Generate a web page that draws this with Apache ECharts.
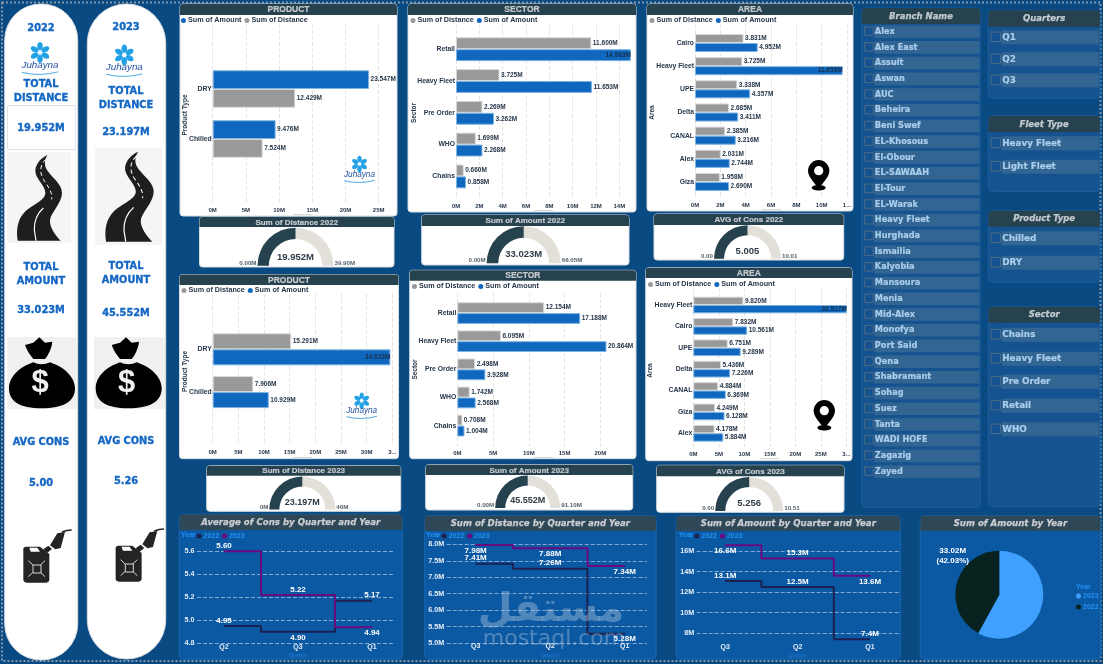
<!DOCTYPE html>
<html>
<head>
<meta charset="utf-8">
<title>Juhayna fleet dashboard</title>
<style>html,body{margin:0;padding:0;background:#0a4a82}#main{width:1103px;height:664px}</style>
<script src="https://cdn.jsdelivr.net/npm/echarts@6/dist/echarts.min.js"></script>
</head>
<body>
<div id="main"></div>
<script>
// ---- data ----
const productCats22 = ['DRY', 'Chilled'];
const productAmount22 = [23.547, 9.476];
const productDistance22 = [12.429, 7.524];
const sectorCats22 = ['Retail', 'Heavy Fleet', 'Pre Order', 'WHO', 'Chains'];
const sectorDistance22 = [11.6, 3.725, 2.269, 1.699, 0.66];
const sectorAmount22 = [14.983, 11.653, 3.262, 2.268, 0.858];
const areaCats22 = ['Cairo', 'Heavy Fleet', 'UPE', 'Delta', 'CANAL', 'Alex', 'Giza'];
const areaDistance22 = [3.831, 3.725, 3.338, 2.685, 2.385, 2.031, 1.958];
const areaAmount22 = [4.952, 11.653, 4.357, 3.411, 3.216, 2.744, 2.69];

const productCats23 = ['DRY', 'Chilled'];
const productDistance23 = [15.291, 7.906];
const productAmount23 = [34.623, 10.929];
const sectorCats23 = ['Retail', 'Heavy Fleet', 'Pre Order', 'WHO', 'Chains'];
const sectorDistance23 = [12.154, 6.095, 2.498, 1.742, 0.708];
const sectorAmount23 = [17.188, 20.864, 3.928, 2.568, 1.004];
const areaCats23 = ['Heavy Fleet', 'Cairo', 'UPE', 'Delta', 'CANAL', 'Giza', 'Alex'];
const areaDistance23 = [9.82, 7.832, 6.751, 5.436, 4.884, 4.249, 4.178];
const areaAmount23 = [32.517, 10.561, 9.289, 7.226, 6.369, 6.128, 5.884];

const gaugeTitles = ['Sum of Distance 2022', 'Sum of Amount 2022', 'AVG of Cons 2022', 'Sum of Distance 2023', 'Sum of Amount 2023', 'AVG of Cons 2023'];
const gaugeValues = [19.952, 33.023, 5.005, 23.197, 45.552, 5.256];
const gaugeMaxima = [39.904, 66.046, 10.01, 46.394, 91.104, 10.512];
const gaugeMinLabels = ['0.00M', '0.00M', '0.00', '0M', '0.00M', '0.00'];
const gaugeMaxLabels = ['39.90M', '66.05M', '10.01', '46M', '91.10M', '10.51'];
const gaugeSuffix = ['M', 'M', '', 'M', 'M', ''];

const consQuarters = ['Q2', 'Q3', 'Q1'];
const cons22 = [4.95, 4.90, 5.17];
const cons23 = [5.60, 5.22, 4.94];
const distanceQuarters = ['Q3', 'Q2', 'Q1'];
const distance22 = [7.41, 7.26, 5.28];
const distance23 = [7.98, 7.88, 7.34];
const amountQuarters = ['Q3', 'Q2', 'Q1'];
const amount22 = [13.1, 12.5, 7.4];
const amount23 = [16.6, 15.3, 13.6];

const yearNames = ['2023', '2022'];
const yearAmounts = [45.55, 33.02];

const branches = ['Alex', 'Alex East', 'Assuit', 'Aswan', 'AUC', 'Beheira', 'Beni Swef', 'EL-Khosous', 'El-Obour', 'EL-SAWAAH', 'El-Tour', 'EL-Warak', 'Heavy Fleet', 'Hurghada', 'Ismailia', 'Kalyobia', 'Mansoura', 'Menia', 'Mid-Alex', 'Monofya', 'Port Said', 'Qena', 'Shabramant', 'Sohag', 'Suez', 'Tanta', 'WADI HOFE', 'Zagazig', 'Zayed'];
const quarterOptions = ['Q1', 'Q2', 'Q3'];
const fleetOptions = ['Heavy Fleet', 'Light Fleet'];
const productOptions = ['Chilled', 'DRY'];
const sectorOptions = ['Chains', 'Heavy Fleet', 'Pre Order', 'Retail', 'WHO'];

// ---- palette and fonts ----
const BG = '#0a4a82', HEADER = '#27424f', HEADER2 = '#2e4858', INK = '#27374a';
const BLUE = '#0f68bd', GREY = '#999999', RING = '#e3dfd9', LINE22 = '#1b2152', LINE23 = '#6a0a80';
const ACCENT = '#1567c4', LEGEND_BLUE = '#2291f5';
const SANS = '"Liberation Sans"', WIDE = '"DejaVu Sans"';
const boldType = size => ({ fontSize: size, fontWeight: 'bold', fontFamily: 'Liberation Sans' });

const grid = [], xAxis = [], yAxis = [], series = [], legend = [], gfx = [];

// ---- drawing helpers for the page furniture ----
function rect(x0, y0, x1, y1, fill, r, stroke, z, extra) {
  gfx.push({ type: 'rect', z: z == null ? -5 : z, silent: true,
    shape: { x: x0, y: y0, width: x1 - x0, height: y1 - y0, r: r || 0 },
    style: Object.assign({ fill: fill, stroke: stroke || null, lineWidth: stroke ? 1 : 0 }, extra || {}) });
}
function text(x, y, str, font, fill, align, rotation, z, weight) {
  gfx.push({ type: 'text', x: x, y: y, rotation: rotation || 0, z: z == null ? 20 : z, silent: true,
    style: { text: str, font: font, fill: fill, align: align || 'center', verticalAlign: 'middle',
      stroke: weight ? fill : null, lineWidth: weight || 0 } });
}
// Vector glyphs are registered once per outline, then placed like any other graphic element.
const shapeNames = new Map();
function shapeFor(d) {
  if (!shapeNames.has(d)) {
    const name = 'glyph' + shapeNames.size;
    echarts.graphic.registerShape(name, echarts.graphic.extendPath(d, {}));
    shapeNames.set(d, name);
  }
  return shapeNames.get(d);
}
function icon(d, fill, tx, ty, sx, sy, stroke, lw, dash, z) {
  gfx.push({ type: shapeFor(d), x: tx, y: ty, scaleX: sx, scaleY: sy, z: z == null ? 20 : z, silent: true,
    style: { fill: fill || 'none', stroke: stroke || null, lineWidth: lw || 0, lineDash: dash || null } });
}

function whitePanel(x0, y0, x1, y1, hdr, title, size) {
  rect(x0, y0, x1, y1, '#ffffff', 3, '#d6dde3', -5);
  rect(x0, y0, x1, hdr, HEADER, [3, 3, 0, 0], null, -4);
  text((x0 + x1) / 2, (y0 + hdr) / 2 + 0.5, title, 'bold ' + (size || 8.5) + 'px ' + SANS, '#c6cbcf', 'center', 0, 20, 0.2);
}
function bluePanel(x0, y0, x1, y1, hdr, title) {
  rect(x0, y0, x1, y1, '#0c59a3', 4, '#1a68b0', -5);
  rect(x0, y0, x1, hdr, HEADER2, [4, 4, 0, 0], null, -4);
  text((x0 + x1) / 2, (y0 + hdr) / 2 + 0.5, title, 'italic bold 8.6px ' + WIDE, '#c9ccd0', 'center', 0, 20, 0.25);
}
function slicer(x0, y0, x1, y1, hdr, title, items, ys, size, boxL, barL, boxS, barH) {
  rect(x0, y0, x1, y1, '#14538f', 4, '#1b5f9e', -5);
  rect(x0, y0, x1, hdr, HEADER, [4, 4, 0, 0], null, -4);
  text((x0 + x1) / 2, (y0 + hdr) / 2 + 0.5, title, 'italic bold 8.5px ' + WIDE, '#c2c9cf', 'center', 0, 20, 0.25);
  items.forEach((name, i) => {
    const y = ys(i);
    rect(barL, y - barH / 2, x1 - 1, y + barH / 2, '#336593', 0, null, -3);
    rect(boxL, y - boxS / 2 - 0.5, boxL + boxS, y + boxS / 2 - 0.5, 'rgba(0,0,0,0)', 0, '#4d6b84', -3);
    text(barL + 0.5, y, name, 'bold ' + size + 'px ' + WIDE, '#a9cdeb', 'left', 0, 20, 0.2);
  });
}

// ---- bar panels: one grid carries the ticks and guide lines, a second one the bars ----
function addBars(c) {
  const g = grid.length;
  const niceMax = c.max % c.interval === 0;
  grid.push({ left: c.x0, top: c.guideTop, width: c.x1 - c.x0, height: c.guideBottom - c.guideTop });
  xAxis.push({ gridIndex: g, type: 'value', min: 0, max: c.max, interval: c.interval,
    axisLine: { show: false }, axisTick: { show: false },
    axisLabel: { margin: 4, ...boldType(6), color: INK, showMaxLabel: niceMax,
      formatter: v => (c.cut && v === c.max) ? c.cut : v + 'M' },
    splitLine: { show: true, showMaxLine: niceMax, lineStyle: { color: '#e4e4e4', type: 'dashed', width: 1 } } });
  yAxis.push({ gridIndex: g, type: 'category', data: c.cats, show: false });

  const b = grid.length;
  grid.push({ left: c.x0, top: c.barTop, width: c.x1 - c.x0, height: c.barBottom - c.barTop });
  xAxis.push({ gridIndex: b, type: 'value', min: 0, max: c.max, show: false, splitLine: { show: false } });
  yAxis.push({ gridIndex: b, type: 'category', data: c.cats, inverse: true,
    axisLine: { show: false }, axisTick: { show: false },
    axisLabel: { margin: 1, ...boldType(6.8), color: INK } });

  c.bars.forEach(s => {
    series.push({ type: 'bar', name: s.name, xAxisIndex: b, yAxisIndex: b, barGap: 0, barCategoryGap: c.gap + '%',
      itemStyle: { color: s.color, borderColor: s.edge, borderWidth: 1 },
      label: { show: true, position: 'right', distance: 1.5, ...boldType(6.5), color: INK,
        formatter: p => p.value.toFixed(3) + 'M' },
      data: s.data.map(v => v >= c.insideFrom
        ? { value: v, label: { position: 'insideRight', distance: 0, color: '#16304e' } } : v) });
  });
  legend.push({ left: c.legendX, top: c.legendY - 2.5, padding: 0, itemWidth: 5, itemHeight: 5, itemGap: 3, icon: 'circle',
    selectedMode: false, textStyle: { ...boldType(7.2), color: INK, padding: [0, 0, 0, -3] },
    data: c.bars.map(s => ({ name: s.name, itemStyle: { color: s.color, borderWidth: 0 } })) });
  text(c.titleX, (c.guideTop + c.guideBottom) / 2 + c.titleDy, c.title, 'bold 6.5px ' + SANS, INK, 'center', Math.PI / 2);
  rect(c.handleX, c.handleY, c.handleX + 19, c.handleY + 1.2, '#d9d9d9', 0, null, -3);
}

const amountBar = data => ({ name: 'Sum of Amount', data, color: BLUE, edge: '#7fb3e2' });
const distanceBar = data => ({ name: 'Sum of Distance', data, color: GREY, edge: '#d8d8d8' });

whitePanel(180, 4, 397, 216, 15, 'PRODUCT');
addBars({ x0: 212.7, x1: 378.7, max: 25, interval: 5, guideTop: 24, guideBottom: 203, barTop: 64, barBottom: 164, gap: 25,
  cats: productCats22, bars: [amountBar(productAmount22), distanceBar(productDistance22)], insideFrom: 99,
  legendX: 181, legendY: 19.5, title: 'Product Type', titleX: 185, titleDy: 1.5, handleX: 293, handleY: 214 });

whitePanel(408, 4, 636, 212, 15, 'SECTOR');
addBars({ x0: 456, x1: 631, max: 15, interval: 2, guideTop: 24, guideBottom: 199, barTop: 33.3, barBottom: 192.3, gap: 25,
  cats: sectorCats22, bars: [distanceBar(sectorDistance22), amountBar(sectorAmount22)], insideFrom: 14,
  legendX: 410.5, legendY: 19.5, title: 'Sector', titleX: 414, titleDy: 1.5, handleX: 534, handleY: 210 });

whitePanel(647, 4, 853, 211, 15, 'AREA');
addBars({ x0: 695, x1: 847, max: 12, interval: 2, cut: '1...', guideTop: 24, guideBottom: 198, barTop: 31.4, barBottom: 193.6, gap: 22,
  cats: areaCats22, bars: [distanceBar(areaDistance22), amountBar(areaAmount22)], insideFrom: 11,
  legendX: 649.5, legendY: 19.5, title: 'Area', titleX: 652.3, titleDy: 1.5, handleX: 762, handleY: 209 });

whitePanel(179.5, 274.5, 398.5, 458.7, 285, 'PRODUCT');
addBars({ x0: 212.7, x1: 392.3, max: 35, interval: 5, cut: '3...', guideTop: 294, guideBottom: 445, barTop: 328, barBottom: 413.4, gap: 25,
  cats: productCats23, bars: [distanceBar(productDistance23), amountBar(productAmount23)], insideFrom: 30,
  legendX: 181.5, legendY: 289.5, title: 'Product Type', titleX: 185, titleDy: 2, handleX: 293, handleY: 457 });

whitePanel(409.7, 270.3, 636, 458.7, 280.7, 'SECTOR');
addBars({ x0: 457.3, x1: 614.6, max: 22, interval: 5, guideTop: 293, guideBottom: 446, barTop: 299, barBottom: 439.7, gap: 23,
  cats: sectorCats23, bars: [distanceBar(sectorDistance23), amountBar(sectorAmount23)], insideFrom: 99,
  legendX: 412, legendY: 285.5, title: 'Sector', titleX: 415, titleDy: 0, handleX: 534, handleY: 457 });

whitePanel(645.7, 267.7, 852, 460.7, 278, 'AREA');
addBars({ x0: 693.3, x1: 846.3, max: 30, interval: 5, cut: '3...', guideTop: 288, guideBottom: 447, barTop: 294.3, barBottom: 444, gap: 22,
  cats: areaCats23, bars: [distanceBar(areaDistance23), amountBar(areaAmount23)], insideFrom: 30,
  legendX: 648, legendY: 283.5, title: 'Area', titleX: 650.7, titleDy: 3, handleX: 760, handleY: 458 });

// ---- half-ring gauges ----
const gaugeBoxes = [
  { x0: 199.5, x1: 394, y0: 217, y1: 267, hdr: 227, cx: 295.5, cy: 265.7, r: 38, t: 11.3, dy: 8.7, fs: 9.5 },
  { x0: 421.7, x1: 629, y0: 215, y1: 265, hdr: 226, cx: 523.7, cy: 263.2, r: 37, t: 11.5, dy: 8.5, fs: 9.5 },
  { x0: 654, x1: 843.7, y0: 214, y1: 260, hdr: 225, cx: 747.5, cy: 258.7, r: 33.5, t: 10, dy: 7.7, fs: 9.5 },
  { x0: 206.7, x1: 400.7, y0: 465.7, y1: 511.3, hdr: 475.7, cx: 302.3, cy: 509.5, r: 33, t: 10, dy: 7, fs: 9 },
  { x0: 425.7, x1: 632.7, y0: 464.7, y1: 510, hdr: 475, cx: 527.7, cy: 508, r: 32.5, t: 10, dy: 7.5, fs: 9 },
  { x0: 656.7, x1: 844, y0: 465.3, y1: 512.3, hdr: 476.3, cx: 749.2, cy: 511, r: 34, t: 10, dy: 8, fs: 9.5 }
];
gaugeBoxes.forEach((b, i) => {
  whitePanel(b.x0, b.y0, b.x1, b.y1, b.hdr, gaugeTitles[i], 8);
  series.push({ type: 'gauge', center: [b.cx, b.cy], radius: b.r, startAngle: 180, endAngle: 0, min: 0, max: gaugeMaxima[i],
    axisLine: { lineStyle: { width: b.t, color: [[1, RING]] } },
    progress: { show: true, width: b.t, itemStyle: { color: HEADER } },
    pointer: { show: false }, axisTick: { show: false }, splitLine: { show: false }, axisLabel: { show: false },
    anchor: { show: false }, title: { show: false },
    detail: { offsetCenter: [0, -b.dy], ...boldType(b.fs), color: '#2f3b46',
      formatter: v => v.toFixed(3) + gaugeSuffix[i] },
    data: [{ value: gaugeValues[i] }] });
  const labelY = b.cy - 2.5, font = 'bold 6.2px ' + SANS;
  text(b.cx - b.r - 1, labelY, gaugeMinLabels[i], font, '#55606b', 'right');
  text(b.cx + b.r + 1, labelY, gaugeMaxLabels[i], font, '#55606b', 'left');
});

// ---- stepped line panels ----
function addSteps(c) {
  const g = grid.length;
  grid.push({ left: c.guideL, top: c.top, width: c.guideR - c.guideL, height: c.bottom - c.top });
  xAxis.push({ gridIndex: g, type: 'category', data: c.cats, show: false });
  yAxis.push({ gridIndex: g, type: 'value', min: c.min, max: c.max, interval: c.interval,
    axisLine: { show: false }, axisTick: { show: false },
    axisLabel: { margin: 2.5, ...boldType(7.2), color: '#e6eef6', formatter: c.tick },
    splitLine: { show: true, lineStyle: { color: 'rgba(205,220,235,0.62)', type: 'dashed', width: 1 } } });

  const f = grid.length;
  grid.push({ left: c.x0, top: c.top, width: c.x1 - c.x0, height: c.bottom - c.top });
  xAxis.push({ gridIndex: f, type: 'category', data: c.cats,
    axisLine: { show: false }, axisTick: { show: false },
    axisLabel: { margin: c.catMargin, ...boldType(7), color: '#e6eef6' } });
  yAxis.push({ gridIndex: f, type: 'value', min: c.min, max: c.max, show: false, splitLine: { show: false } });

  [[c.s22, LINE22, '2022', c.pos22], [c.s23, LINE23, '2023', c.pos23]].forEach(([vals, color, name, pos]) => {
    series.push({ type: 'line', name, xAxisIndex: f, yAxisIndex: f, step: 'middle', clip: false, symbol: 'circle', symbolSize: 1,
      showSymbol: true, showAllSymbol: true,
      lineStyle: { color, width: 2 }, itemStyle: { color },
      label: { show: true, distance: 1, ...boldType(8), color: '#ffffff', formatter: c.fmt },
      data: vals.map((v, i) => ({ value: v, label: { position: pos[i] } })) });
  });
  legend.push({ left: c.legendX, top: 532.5, padding: 0, itemWidth: 5, itemHeight: 5, itemGap: 3, icon: 'circle', selectedMode: false,
    textStyle: { ...boldType(7), color: LEGEND_BLUE, padding: [0, 0, 0, -3] },
    data: [{ name: '2022', itemStyle: { color: LINE22, borderWidth: 0 } }, { name: '2023', itemStyle: { color: LINE23, borderWidth: 0 } }] });
  text(c.yearX, 535, 'Year', 'bold 7px ' + SANS, LEGEND_BLUE, 'left');
  text((c.x0 + c.x1) / 2, 655.5, 'Quarter', 'bold 5px ' + SANS, '#1b74cf');
}

bluePanel(179.3, 514.3, 402.3, 659, 530, 'Average of Cons by Quarter and Year');
addSteps({ cats: consQuarters, s22: cons22, s23: cons23, min: 4.8, max: 5.6, interval: 0.2, top: 551.3, bottom: 643.3,
  guideL: 197, guideR: 394, x0: 187, x1: 409, catMargin: 0, yearX: 181, legendX: 196.5,
  tick: v => v.toFixed(1), fmt: p => p.value.toFixed(2),
  pos22: ['top', 'bottom', 'top'], pos23: ['top', 'top', 'bottom'] });

bluePanel(424.7, 515.7, 656, 659, 531, 'Sum of Distance by Quarter and Year');
addSteps({ cats: distanceQuarters, s22: distance22, s23: distance23, min: 5, max: 8, interval: 0.5, top: 544.3, bottom: 643,
  guideL: 446.7, guideR: 646.7, x0: 438.4, x1: 662, catMargin: 0, yearX: 426, legendX: 441.5,
  tick: v => v.toFixed(1) + 'M', fmt: p => p.value.toFixed(2) + 'M',
  pos22: ['top', 'top', 'bottom'], pos23: ['bottom', 'bottom', 'bottom'] });

bluePanel(676.3, 515.7, 900.3, 659, 531, 'Sum of Amount by Quarter and Year');
addSteps({ cats: amountQuarters, s22: amount22, s23: amount23, min: 8, max: 16, interval: 2, top: 551.3, bottom: 633,
  guideL: 696.7, guideR: 898.7, x0: 689, x1: 906.2, catMargin: 11, yearX: 678.7, legendX: 694.3,
  tick: v => v + 'M', fmt: p => p.value.toFixed(1) + 'M',
  pos22: ['top', 'top', 'top'], pos23: ['bottom', 'top', 'bottom'] });

// ---- share of amount by year ----
bluePanel(920.3, 515.7, 1100.5, 659, 531, 'Sum of Amount by Year');
const pieColors = ['#3fa0ff', '#07221f'];
const pieLabelSpots = [[1037.7, 641], [952.7, 556]];
series.push({ type: 'pie', name: 'Year', center: [999.3, 594.7], radius: 44, startAngle: 90, clockwise: true,
  label: { show: true, position: 'outside', ...boldType(8), lineHeight: 10, color: '#ffffff',
    formatter: p => p.value.toFixed(2) + 'M\n(' + p.percent.toFixed(2) + '%)' },
  labelLine: { show: false },
  labelLayout: p => ({ x: pieLabelSpots[p.dataIndex][0], y: pieLabelSpots[p.dataIndex][1], align: 'center', verticalAlign: 'middle' }),
  data: yearNames.map((n, i) => ({ name: n, value: yearAmounts[i], itemStyle: { color: pieColors[i] } })) });
legend.push({ left: 1076, top: 592.5, padding: 0, orient: 'vertical', itemWidth: 5, itemHeight: 5, itemGap: 4, icon: 'circle', selectedMode: false,
  textStyle: { ...boldType(7), color: LEGEND_BLUE, padding: [0, 0, 0, -3] },
  data: yearNames.map((n, i) => ({ name: n, itemStyle: { color: pieColors[i], borderWidth: 0 } })) });
text(1076, 586.7, 'Year', 'bold 7px ' + SANS, LEGEND_BLUE, 'left');

// ---- filter lists ----
slicer(861.7, 8, 980.3, 507.3, 24, 'Branch Name', branches, i => 31.7 + i * 15.71, 8.2, 864.7, 874.3, 8.5, 12.6);
const listAt = ys => i => ys[i];
slicer(988.3, 10.3, 1100, 98.3, 26.7, 'Quarters', quarterOptions, listAt([37.3, 59.3, 80.3]), 8.8, 991, 1001.7, 9.5, 14);
slicer(988.3, 115.7, 1100, 191.3, 132, 'Fleet Type', fleetOptions, listAt([143.3, 166.7]), 8.8, 991, 1001.7, 9.5, 14);
slicer(988.3, 210.7, 1100, 282.3, 226.7, 'Product Type', productOptions, listAt([238.3, 262.7]), 8.8, 991, 1001.7, 9.5, 14);
slicer(988.3, 306.7, 1100, 506.7, 322.7, 'Sector', sectorOptions, listAt([334.7, 358.7, 381.7, 405.7, 429.3]), 8.8, 991, 1001.7, 9.5, 14);

// ---- KPI columns ----
rect(4.7, 4, 77.7, 660, '#ffffff', 36, '#d5dde6', -6);
rect(87.3, 4, 165.7, 659, '#ffffff', 39, '#d5dde6', -6);

const kpiFont = 'bold 9.8px ' + WIDE;
function kpi(x, items) { items.forEach(([y, s]) => text(x, y, s, kpiFont, ACCENT, 'center', 0, 20, 0.35)); }
kpi(41, [[28, '2022'], [84.5, 'TOTAL'], [98.5, 'DISTANCE'], [128.5, '19.952M'], [267.5, 'TOTAL'], [281.5, 'AMOUNT'], [310.5, '33.023M'], [442, 'AVG CONS'], [483.5, '5.00']]);
kpi(126, [[27.5, '2023'], [91.5, 'TOTAL'], [105.5, 'DISTANCE'], [132.5, '23.197M'], [266.5, 'TOTAL'], [280.5, 'AMOUNT'], [313.5, '45.552M'], [441.5, 'AVG CONS'], [481.5, '5.26']]);
rect(7.5, 105.5, 75.5, 149.5, 'rgba(0,0,0,0)', 0, '#dfe3e7', 1);

const ROAD = 'M143 465C125 472 108 490 106 510C104 535 135 555 136 578C137 600 100 612 75 635C55 655 47 685 53 722L182 722C165 705 148 680 150 660C152 640 185 610 186 580C187 550 150 530 138 505C132 490 135 475 143 465Z';
const ROAD_DASH = 'M137 478C120 495 118 515 130 538C143 558 158 575 155 598';
const ROAD_LINE = 'M130 624C112 640 102 660 103 690L108 722';
function road(bgL, bgT, bgR, bgB, sx, sy, tx, ty) {
  rect(bgL, bgT, bgR, bgB, '#f5f5f5', 0, null, 1);
  icon(ROAD, '#1e1e1e', tx, ty, sx, sy, null, 0, null, 2);
  icon(ROAD_DASH, null, tx, ty, sx, sy, '#ffffff', 3, [12, 9], 3);
  icon(ROAD_LINE, null, tx, ty, sx, sy, '#ffffff', 3.5, null, 3);
}
road(7.5, 152, 71, 243, 1 / 3, 1 / 3, 0, 0);
road(95, 148, 162, 245, 0.358, 0.35, 87.1, -11);

const BAG_TOP = 'M75 285L100 278L118 262L135 278L157 275C155 295 145 315 135 327L100 327C90 315 80 300 75 285Z';
const BAG_BODY = 'M100 337C60 350 27 380 27 415C27 455 60 475 125 475C190 475 225 455 225 415C225 380 190 350 150 337C135 345 115 345 100 337Z';
function bag(bgL, bgR, dx) {
  rect(bgL, 337, bgR, 409, '#f0f0f0', 0, null, 1);
  icon(BAG_TOP, '#000000', dx, 250, 1 / 3, 1 / 3, null, 0, null, 2);
  icon(BAG_BODY, '#000000', dx, 250, 1 / 3, 1 / 3, null, 0, null, 2);
  text(dx + 40, 383.5, '$', 'bold 31px ' + SANS, '#f0f0f0', 'center', 0, 3);
}
bag(7.3, 76.7, 0);
bag(94, 165, 86.7);

const CAN = 'M78 290L120 290L148 312L148 388Q148 398 138 398L80 398Q70 398 70 388L70 298Q70 290 78 290Z';
const CAN_HANDLE = 'M88 293L112 293L120 305L92 305Z';
const CAN_CROSS = 'M85 332L135 380M135 332L85 380';
const CAN_NECK = 'M130 298L145 287L156 297L141 309Z';
const CAN_NOZZLE = 'M150 286L172 250L195 246L182 294L166 298Z';
const CAN_HOSE = 'M186 246Q200 240 215 240';
function jerrycan(tx, ty) {
  const s = 1 / 3;
  icon(CAN, '#242424', tx, ty, s, s, null, 0, null, 2);
  icon(CAN_HANDLE, '#ffffff', tx, ty, s, s, null, 0, null, 3);
  icon(CAN_CROSS, null, tx, ty, s, s, '#d8d8d8', 3, null, 3);
  rect(tx + 33, ty + 115, tx + 41, ty + 123, '#242424', 0, '#d8d8d8', 4);
  icon(CAN_NECK, '#242424', tx, ty, s, s, null, 0, null, 2);
  icon(CAN_NOZZLE, '#242424', tx, ty, s, s, null, 0, null, 2);
  icon(CAN_HOSE, null, tx, ty, s, s, '#242424', 4.5, null, 2);
}
jerrycan(0, 450);
jerrycan(92.3, 449);

// ---- brand mark ----
function brand(cx, flowerY, textY, r, size) {
  for (let k = 0; k < 6; k++) {
    gfx.push({ type: 'ellipse', x: cx, y: flowerY, rotation: k * Math.PI / 3, z: 20, silent: true,
      shape: { cx: 0, cy: -r * 0.62, rx: r * 0.28, ry: r * 0.42 }, style: { fill: '#23a1e6' } });
  }
  gfx.push({ type: 'circle', x: cx, y: flowerY, z: 21, silent: true, shape: { r: r * 0.12 }, style: { fill: '#ffffff' } });
  text(cx, textY, 'Juhayna', 'italic ' + size + 'px ' + SANS, '#1d4f9e');
  const w = size * 1.85;
  icon('M' + (cx - w) + ' ' + (textY + size * 0.7) + 'Q' + cx + ' ' + (textY + size * 1.15) + ' ' + (cx + w) + ' ' + (textY + size * 0.65),
    null, 0, 0, 1, 1, '#4ea9e4', 1);
}
brand(40, 52.5, 65.5, 10, 9.8);
brand(124.3, 55, 67.5, 10, 9.8);
brand(359.5, 164, 175, 8, 8.2);
brand(361.7, 400.7, 411, 8, 8.2);

// ---- location pins ----
const PIN = 'M-32 0A32 32 0 1 1 32 0C32 20 10 38 0 55C-10 38 -32 20 -32 0Z';
function pin(cx, cy) {
  gfx.push({ type: 'ellipse', x: cx, y: cy + 17, z: 20, silent: true, shape: { cx: 0, cy: 0, rx: 7, ry: 2.8 }, style: { fill: '#000000' } });
  icon(PIN, '#000000', cx, cy, 1 / 3, 1 / 3, null, 0, null, 21);
  gfx.push({ type: 'circle', x: cx, y: cy, z: 22, silent: true, shape: { r: 4.6 }, style: { fill: '#ffffff' } });
}
pin(818.7, 170.7);
pin(824.3, 410.7);

// ---- outer dotted frame and site mark ----
rect(2, 2.5, 1100.5, 661, 'rgba(0,0,0,0)', 0, '#8296a9', -7, { lineWidth: 2, lineDash: [2, 2] });
text(551, 611, 'مستقل', 'bold 40px ' + WIDE, 'rgba(200,214,230,0.36)', 'center', 0, 30);
text(554, 639, 'mostaql.com', '22px ' + WIDE, 'rgba(200,214,230,0.36)', 'center', 0, 30);

const chart = echarts.init(document.getElementById('main'), null, { renderer: 'canvas' });
chart.setOption({
  animation: false,
  backgroundColor: BG,
  tooltip: { show: false },
  graphic: { elements: gfx },
  legend, grid, xAxis, yAxis, series
});
</script>
</body>
</html>
